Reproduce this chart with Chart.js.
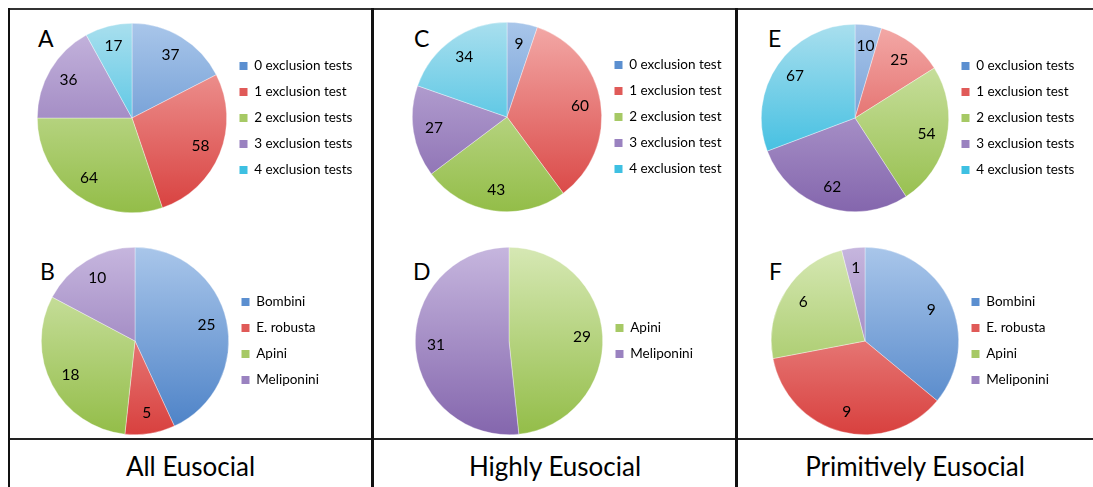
<!DOCTYPE html>
<html><head><meta charset="utf-8">
<script src="https://cdn.jsdelivr.net/npm/chart.js@4.4.1/dist/chart.umd.min.js"></script>
<style>
html,body{margin:0;padding:0;background:#fff;width:1093px;height:487px;overflow:hidden;font-family:Lato,"Open Sans",sans-serif;}
.line{position:absolute;background:#111;}
.wrap{position:absolute;}
.letter{position:absolute;font-size:23px;line-height:22px;color:#000;}
.title{position:absolute;font-size:26px;line-height:38px;text-align:center;top:447px;color:#000;}
</style></head><body>
<div class="line" style="left:8px;top:8px;width:1085px;height:2px;background:#333"></div>
<div class="line" style="left:8px;top:438px;width:1085px;height:2px;background:#222"></div>
<div class="line" style="left:8px;top:8px;width:2px;height:479px;"></div>
<div class="line" style="left:371px;top:8px;width:3px;height:479px;"></div>
<div class="line" style="left:735px;top:8px;width:3px;height:479px;"></div>
<div class="letter" style="left:38px;top:27px">A</div>
<div class="letter" style="left:40px;top:260px">B</div>
<div class="letter" style="left:414px;top:27px">C</div>
<div class="letter" style="left:413px;top:260px">D</div>
<div class="letter" style="left:768px;top:27px">E</div>
<div class="letter" style="left:769px;top:260px">F</div>
<div class="title" style="left:8px;width:365px">All Eusocial</div>
<div class="title" style="left:373px;width:364px">Highly Eusocial</div>
<div class="title" style="left:737px;width:356px">Primitively Eusocial</div>
<script>
// ---- data ----
const testLabelsA = ['0 exclusion tests','1 exclusion test','2 exclusion tests','3 exclusion tests','4 exclusion tests'];
const testLabelsC = ['0 exclusion test','1 exclusion test','2 exclusion test','3 exclusion test','4 exclusion test'];
const testLabelsE = ['0 exclusion tests','1 exclusion test','2 exclusion tests','3 exclusion tests','4 exclusion tests'];
const tribeLabels = ['Bombini','E. robusta','Apini','Meliponini'];
const tribeLabelsD = ['Apini','Meliponini'];
const valuesA = [37, 58, 64, 36, 17];
const valuesB = [25, 5, 18, 10];
const valuesC = [9, 60, 43, 27, 34];
const valuesD = [29, 31];
const valuesE = [10, 25, 54, 62, 67];
const valuesF = [9, 9, 6, 1];

// ---- colours ----
const COL = {
  blue:   {light:'#a9c6ea', dark:'#4a80c6', legend:'#5b8fd0'},
  red:    {light:'#f3aaa8', dark:'#d8403e', legend:'#e05a58'},
  green:  {light:'#d6e8b4', dark:'#93bd48', legend:'#a6c965'},
  purple: {light:'#c6b6de', dark:'#8466ad', legend:'#9a82c0'},
  cyan:   {light:'#a9dfee', dark:'#18b2dc', legend:'#3ec0e2'}
};
const testColors = ['blue','red','green','purple','cyan'];
const tribeColors = ['blue','red','green','purple'];
const tribeColorsD = ['green','purple'];

const valueLabels = {
  id: 'valueLabels',
  afterDatasetsDraw(chart, args, opts) {
    const ctx = chart.ctx;
    const meta = chart.getDatasetMeta(0);
    const data = chart.data.datasets[0].data;
    ctx.save();
    ctx.font = '15.5px Lato, sans-serif';
    ctx.fillStyle = '#000';
    ctx.textAlign = 'center';
    ctx.textBaseline = 'middle';
    meta.data.forEach((arc, i) => {
      const p = arc.getProps(['startAngle','endAngle','outerRadius','x','y'], true);
      const mid = (p.startAngle + p.endAngle) / 2;
      const r = p.outerRadius * (opts.r || 0.78);
      ctx.fillText(String(data[i]), p.x + Math.cos(mid) * r, p.y + Math.sin(mid) * r);
    });
    ctx.restore();
  }
};

function makePie(left, top, size, labels, values, colorKeys) {
  const W = size + 170;
  const wrap = document.createElement('div');
  wrap.className = 'wrap';
  wrap.style.left = left + 'px';
  wrap.style.top = top + 'px';
  wrap.style.width = W + 'px';
  wrap.style.height = size + 'px';
  const cv = document.createElement('canvas');
  cv.width = W; cv.height = size;
  wrap.appendChild(cv);
  document.body.appendChild(wrap);
  const bg = (ctx) => {
    const c = COL[colorKeys[ctx.dataIndex]];
    const area = ctx.chart.chartArea;
    if (!area) return c.legend;
    const g = ctx.chart.ctx.createLinearGradient(0, area.top, 0, area.bottom);
    g.addColorStop(0, c.light);
    g.addColorStop(1, c.dark);
    return g;
  };
  const chart = new Chart(cv, {
    type: 'pie',
    data: {labels: labels, datasets: [{data: values, backgroundColor: bg, borderWidth: 0.6, borderColor: 'rgba(255,255,255,0.6)', hoverOffset: 0, offset: 0}]},
    options: {
      responsive: false,
      animation: false,
      layout: {padding: {left: 0, right: 0, top: 0, bottom: 0}},
      plugins: {
        tooltip: {enabled: false},
        valueLabels: {r: 0.78},
        legend: {
          position: 'right',
          align: 'center',
          labels: {
            boxWidth: 8, boxHeight: 8, padding: 12.5, color: '#000',
            font: {family: 'Lato, sans-serif', size: 13.5},
            generateLabels: (ch) => ch.data.labels.map((t, i) => ({
              text: t, fillStyle: COL[colorKeys[i]].legend, strokeStyle: COL[colorKeys[i]].legend,
              lineWidth: 0, hidden: false, index: i
            }))
          }
        }
      }
    },
    plugins: [valueLabels]
  });
  const lw = chart.legend.width;
  chart.options.layout.padding.right = Math.max(0, W - size - lw);
  chart.update('none');
  return chart;
}

makePie(37, 23, 190, testLabelsA, valuesA, testColors);
makePie(41, 247, 188, tribeLabels, valuesB, tribeColors);
makePie(412, 22, 190, testLabelsC, valuesC, testColors);
makePie(415, 247, 188, tribeLabelsD, valuesD, tribeColorsD);
makePie(761, 24, 188, testLabelsE, valuesE, testColors);
makePie(771, 247, 188, tribeLabels, valuesF, tribeColors);
</script>
</body></html>
